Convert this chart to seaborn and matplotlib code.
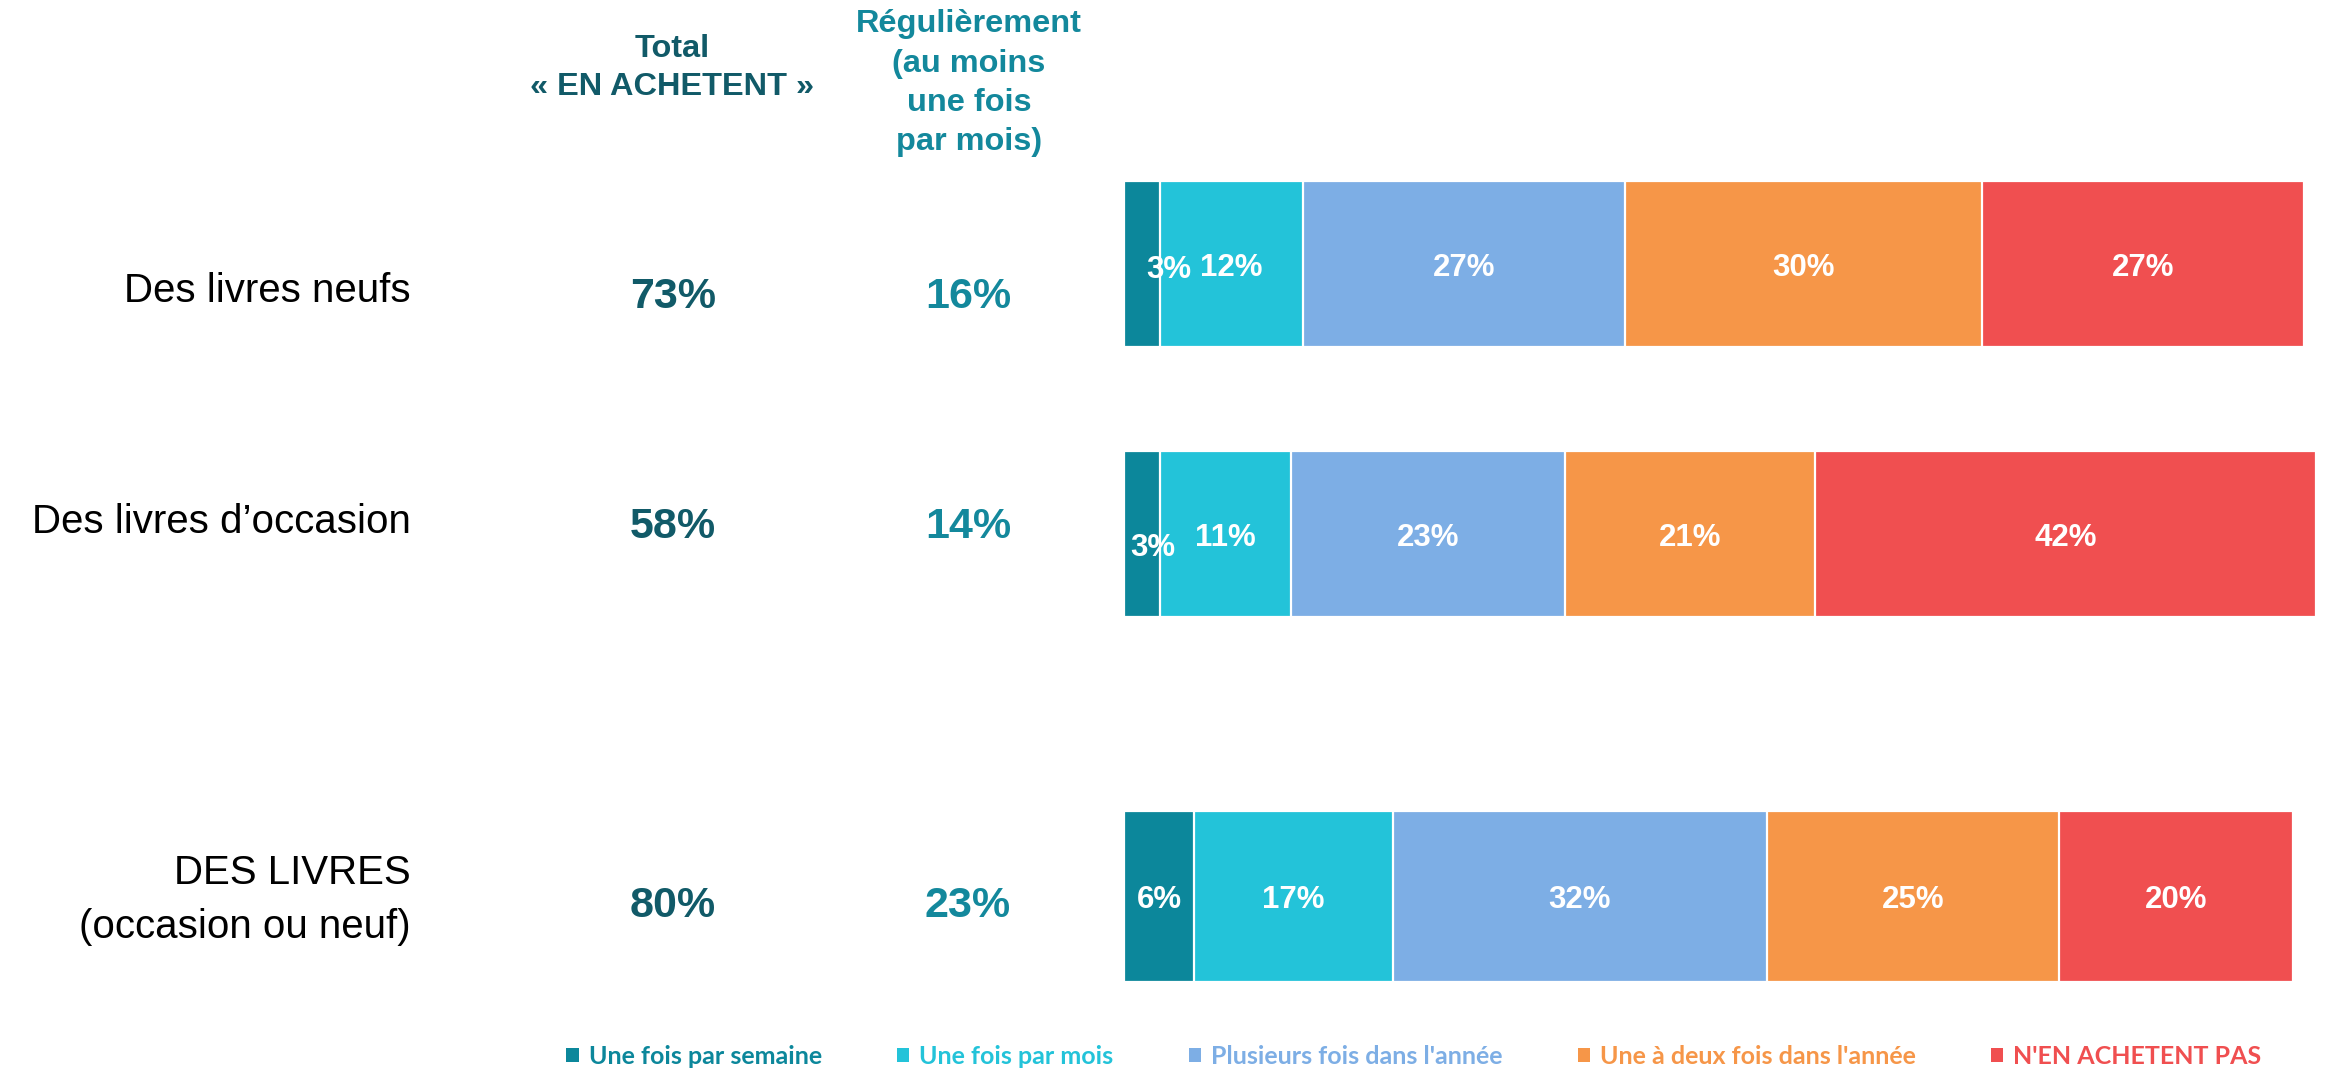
import numpy as np
import pandas as pd
import seaborn as sns
import matplotlib.pyplot as plt
from matplotlib.patches import Patch

plt.rcParams['font.family'] = ['Liberation Sans', 'DejaVu Sans']

# data
rows = ['Des livres neufs', 'Des livres d\u2019occasion', 'DES LIVRES\n(occasion ou neuf)']
total_achetent = ['73%', '58%', '80%']
regulierement = ['16%', '14%', '23%']

segments = ['Une fois par semaine', 'Une fois par mois', "Plusieurs fois dans l'année",
            "Une à deux fois dans l'année", "N'EN ACHETENT PAS"]
semaine = [3, 3, 6]
mois = [12, 11, 17]
plusieurs = [27, 23, 32]
une_deux = [30, 21, 25]
pas = [27, 42, 20]

colors = ['#0c879b', '#23c3d9', '#7daee5', '#f69648', '#f04f50']
col1_color = '#115a68'
col2_color = '#13889c'

df = pd.DataFrame({'row': rows, segments[0]: semaine, segments[1]: mois,
                   segments[2]: plusieurs, segments[3]: une_deux, segments[4]: pas})

W, H = 2326, 1071
fig = plt.figure(figsize=(W / 100, H / 100), dpi=100)


def fx(x):
    return x / W


def fy(y):
    return 1 - y / H


# label nudges (pixels, right / down) for the tiny first segments
nudge = {(0, 0): (27, 2), (1, 0): (11, 10)}


def stacked(ax, sub, width, offset):
    cum = sub[segments].cumsum(axis=1)
    # draw longest first so every shorter cumulative bar sits on top
    for seg, color in reversed(list(zip(segments, colors))):
        sns.barplot(x=cum[seg], y=sub['row'], order=list(sub['row']), orient='h',
                    color=color, saturation=1, width=width, errorbar=None,
                    edgecolor='white', linewidth=1.6, ax=ax)
    for i, (_, r) in enumerate(sub.iterrows()):
        left = 0
        for j, seg in enumerate(segments):
            v = r[seg]
            dx, dy = nudge.get((i + offset, j), (0, 0))
            ax.annotate(f'{v}%', xy=(left + v / 2, i), xytext=(dx * 0.72, -dy * 0.72),
                        textcoords='offset points', ha='center', va='center_baseline',
                        color='white', fontsize=22.5, fontweight='bold')
            left += v
    ax.axis('off')


# rows 1-2 and row 3 come from two separate charts (different scales)
ax1 = fig.add_axes([fx(1124), fy(669), 1 - fx(1124), 540 / H])
stacked(ax1, df.iloc[:2], 166 / 270, 0)
ax1.set_xlim(0, 1202 / 11.92)
ax1.set_ylim(1.5, -0.5)

ax2 = fig.add_axes([fx(1124), fy(1003.4), 1 - fx(1124), 213.75 / H])
stacked(ax2, df.iloc[2:], 0.8, 2)
ax2.set_xlim(0, 1202 / 11.69)
ax2.set_ylim(0.5, -0.5)

# column headers (baseline given for the last line)
fig.text(fx(672), fy(95), 'Total\n\u00ab EN ACHETENT \u00bb', ha='center', va='baseline',
         fontsize=23.4, fontweight='bold', color=col1_color, linespacing=1.35)
fig.text(fx(969), fy(150), 'Régulièrement\n(au moins\nune fois\npar mois)', ha='center',
         va='baseline', fontsize=23.4, fontweight='bold', color=col2_color, linespacing=1.4)

# row labels and the two summary columns
label_base = [302, 533, 938]
num_base = [308, 538, 917]
for i in range(3):
    fig.text(fx(411), fy(label_base[i]), rows[i], ha='right', va='baseline',
             fontsize=29, color='black', linespacing=1.55, multialignment='right')
    fig.text(fx(673), fy(num_base[i]), total_achetent[i], ha='center', va='baseline',
             fontsize=31, fontweight='bold', color=col1_color)
    fig.text(fx(968), fy(num_base[i]), regulierement[i], ha='center', va='baseline',
             fontsize=31, fontweight='bold', color=col2_color)

handles = [Patch(facecolor=c) for c in colors]
leg = fig.legend(handles, segments, loc='center', bbox_to_anchor=(fx(1414), fy(1056)),
                 ncol=5, frameon=False, handlelength=0.5, handleheight=0.5,
                 handletextpad=0.4, columnspacing=3.0,
                 prop={'family': 'Lato', 'weight': 'bold', 'size': 18})
for t, c in zip(leg.get_texts(), colors):
    t.set_color(c)

fig.savefig('out.png', dpi=100)
